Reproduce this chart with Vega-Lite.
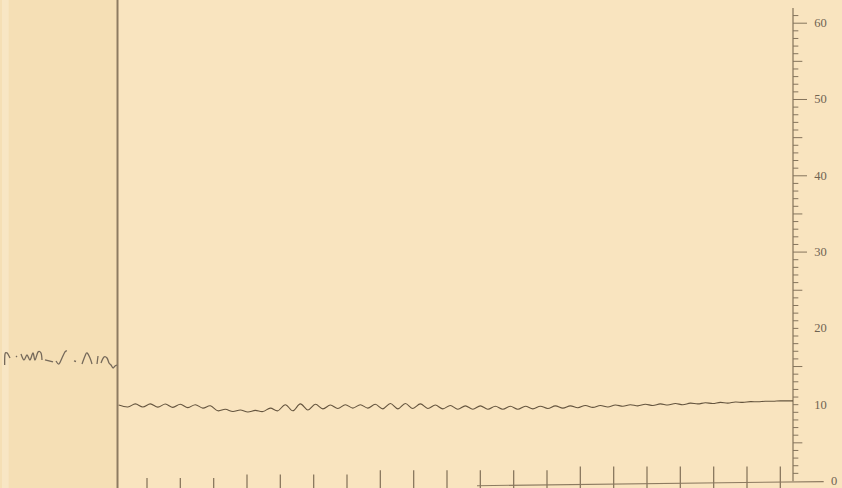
{
  "$schema": "https://vega.github.io/schema/vega-lite/v6.json",
  "width": 842,
  "height": 488,
  "autosize": {"type": "none"},
  "padding": 0,
  "background": "#f9e4bf",
  "config": {"view": {"stroke": null}},
  "datasets": {
    "trace": [
      {"t": 0.15, "v": 9.95}, {"t": 0.425, "v": 9.7}, {"t": 0.65, "v": 10.1}, {"t": 0.875, "v": 9.7},
      {"t": 1.1, "v": 10.1}, {"t": 1.325, "v": 9.68}, {"t": 1.55, "v": 10.08}, {"t": 1.775, "v": 9.65},
      {"t": 2.0, "v": 10.05}, {"t": 2.225, "v": 9.62}, {"t": 2.45, "v": 10.0}, {"t": 2.675, "v": 9.55},
      {"t": 2.9, "v": 9.85}, {"t": 3.125, "v": 9.2}, {"t": 3.35, "v": 9.4}, {"t": 3.575, "v": 9.1},
      {"t": 3.8, "v": 9.3}, {"t": 4.025, "v": 9.05}, {"t": 4.25, "v": 9.25}, {"t": 4.475, "v": 9.1},
      {"t": 4.7, "v": 9.55}, {"t": 4.925, "v": 9.2}, {"t": 5.15, "v": 10.0}, {"t": 5.375, "v": 9.2},
      {"t": 5.6, "v": 10.1}, {"t": 5.825, "v": 9.3}, {"t": 6.05, "v": 10.05}, {"t": 6.275, "v": 9.45},
      {"t": 6.5, "v": 9.95}, {"t": 6.725, "v": 9.5}, {"t": 6.95, "v": 10.0}, {"t": 7.175, "v": 9.55},
      {"t": 7.4, "v": 10.0}, {"t": 7.625, "v": 9.55}, {"t": 7.85, "v": 10.05}, {"t": 8.075, "v": 9.45},
      {"t": 8.3, "v": 10.15}, {"t": 8.525, "v": 9.45}, {"t": 8.75, "v": 10.15}, {"t": 8.975, "v": 9.5},
      {"t": 9.2, "v": 10.1}, {"t": 9.425, "v": 9.5}, {"t": 9.65, "v": 9.95}, {"t": 9.875, "v": 9.45},
      {"t": 10.1, "v": 9.9}, {"t": 10.325, "v": 9.4}, {"t": 10.55, "v": 9.85}, {"t": 10.775, "v": 9.4},
      {"t": 11.0, "v": 9.85}, {"t": 11.225, "v": 9.4}, {"t": 11.45, "v": 9.8}, {"t": 11.675, "v": 9.4},
      {"t": 11.9, "v": 9.8}, {"t": 12.125, "v": 9.4}, {"t": 12.35, "v": 9.8}, {"t": 12.575, "v": 9.45},
      {"t": 12.8, "v": 9.8}, {"t": 13.025, "v": 9.5}, {"t": 13.25, "v": 9.85}, {"t": 13.475, "v": 9.55},
      {"t": 13.7, "v": 9.85}, {"t": 13.925, "v": 9.6}, {"t": 14.15, "v": 9.9}, {"t": 14.375, "v": 9.65},
      {"t": 14.6, "v": 9.9}, {"t": 14.825, "v": 9.7}, {"t": 15.05, "v": 9.95}, {"t": 15.275, "v": 9.8},
      {"t": 15.5, "v": 10.0}, {"t": 15.725, "v": 9.85}, {"t": 15.95, "v": 10.05}, {"t": 16.175, "v": 9.9},
      {"t": 16.4, "v": 10.1}, {"t": 16.625, "v": 9.95}, {"t": 16.85, "v": 10.15}, {"t": 17.075, "v": 10.0},
      {"t": 17.3, "v": 10.2}, {"t": 17.525, "v": 10.1}, {"t": 17.75, "v": 10.25}, {"t": 17.975, "v": 10.15},
      {"t": 18.2, "v": 10.3}, {"t": 18.425, "v": 10.2}, {"t": 18.65, "v": 10.35}, {"t": 18.875, "v": 10.3},
      {"t": 19.1, "v": 10.4}, {"t": 19.325, "v": 10.38}, {"t": 19.55, "v": 10.45}, {"t": 19.775, "v": 10.45},
      {"t": 20.0, "v": 10.5}, {"t": 20.225, "v": 10.5}, {"t": 20.38, "v": 10.5}
    ],
    "prelude": [
      {"t": -3.27, "v": 15.2, "s": "A"}, {"t": -3.26, "v": 16.64, "s": "A"}, {"t": -3.2, "v": 16.78, "s": "A"}, {"t": -3.14, "v": 16.38, "s": "A"}, {"t": -3.11, "v": 16.12, "s": "A"},
      {"t": -2.93, "v": 16.38, "s": "B"}, {"t": -2.9, "v": 16.25, "s": "B"},
      {"t": -2.78, "v": 16.64, "s": "C"}, {"t": -2.69, "v": 15.86, "s": "C"}, {"t": -2.6, "v": 16.51, "s": "C"}, {"t": -2.51, "v": 15.86, "s": "C"}, {"t": -2.42, "v": 16.78, "s": "C"}, {"t": -2.36, "v": 15.86, "s": "C"}, {"t": -2.27, "v": 16.91, "s": "C"}, {"t": -2.18, "v": 16.78, "s": "C"}, {"t": -2.15, "v": 15.86, "s": "C"},
      {"t": -2.06, "v": 15.86, "s": "D"}, {"t": -1.82, "v": 15.6, "s": "D"},
      {"t": -1.73, "v": 15.73, "s": "E"}, {"t": -1.64, "v": 15.33, "s": "E"}, {"t": -1.55, "v": 16.12, "s": "E"}, {"t": -1.46, "v": 16.91, "s": "E"}, {"t": -1.4, "v": 17.04, "s": "E"},
      {"t": -1.19, "v": 15.73, "s": "F"}, {"t": -1.13, "v": 15.66, "s": "F"},
      {"t": -0.95, "v": 15.33, "s": "G"}, {"t": -0.86, "v": 16.38, "s": "G"}, {"t": -0.8, "v": 16.78, "s": "G"}, {"t": -0.71, "v": 16.12, "s": "G"}, {"t": -0.65, "v": 15.33, "s": "G"},
      {"t": -0.5, "v": 15.33, "s": "H"}, {"t": -0.47, "v": 16.38, "s": "H"},
      {"t": -0.38, "v": 15.47, "s": "I"}, {"t": -0.29, "v": 16.25, "s": "I"}, {"t": -0.2, "v": 16.12, "s": "I"}, {"t": -0.14, "v": 15.47, "s": "I"}, {"t": -0.08, "v": 15.2, "s": "I"}, {"t": -0.02, "v": 14.81, "s": "I"}, {"t": 0.04, "v": 15.07, "s": "I"}, {"t": 0.1, "v": 15.2, "s": "I"}
    ],
    "timemarks": [
      {"t": 1, "k": "s"}, {"t": 2, "k": "s"}, {"t": 3, "k": "s"}, {"t": 4, "k": "m"}, {"t": 5, "k": "m"},
      {"t": 6, "k": "m"}, {"t": 7, "k": "m"}, {"t": 8, "k": "l"}, {"t": 9, "k": "l"}, {"t": 10, "k": "l"},
      {"t": 11, "k": "l"}, {"t": 12, "k": "l"}, {"t": 13, "k": "l"}, {"t": 14, "k": "x"}, {"t": 15, "k": "x"},
      {"t": 16, "k": "x"}, {"t": 17, "k": "x"}, {"t": 18, "k": "x"}, {"t": 19, "k": "x"}, {"t": 20, "k": "x"}
    ],
    "yticks": [
      {"v": 1, "k": "m"}, {"v": 2, "k": "m"}, {"v": 3, "k": "m"}, {"v": 4, "k": "m"}, {"v": 5, "k": "f"},
      {"v": 6, "k": "m"}, {"v": 7, "k": "m"}, {"v": 8, "k": "m"}, {"v": 9, "k": "m"}, {"v": 10, "k": "m"},
      {"v": 11, "k": "m"}, {"v": 12, "k": "m"}, {"v": 13, "k": "m"}, {"v": 14, "k": "m"}, {"v": 15, "k": "f"},
      {"v": 16, "k": "m"}, {"v": 17, "k": "m"}, {"v": 18, "k": "m"}, {"v": 19, "k": "m"}, {"v": 20, "k": "m"},
      {"v": 21, "k": "m"}, {"v": 22, "k": "m"}, {"v": 23, "k": "m"}, {"v": 24, "k": "m"}, {"v": 25, "k": "f"},
      {"v": 26, "k": "m"}, {"v": 27, "k": "m"}, {"v": 28, "k": "m"}, {"v": 29, "k": "m"}, {"v": 30, "k": "t"},
      {"v": 31, "k": "m"}, {"v": 32, "k": "m"}, {"v": 33, "k": "m"}, {"v": 34, "k": "m"}, {"v": 35, "k": "f"},
      {"v": 36, "k": "m"}, {"v": 37, "k": "m"}, {"v": 38, "k": "m"}, {"v": 39, "k": "m"}, {"v": 40, "k": "t"},
      {"v": 41, "k": "m"}, {"v": 42, "k": "m"}, {"v": 43, "k": "m"}, {"v": 44, "k": "m"}, {"v": 45, "k": "f"},
      {"v": 46, "k": "m"}, {"v": 47, "k": "m"}, {"v": 48, "k": "m"}, {"v": 49, "k": "m"}, {"v": 50, "k": "t"},
      {"v": 51, "k": "m"}, {"v": 52, "k": "m"}, {"v": 53, "k": "m"}, {"v": 54, "k": "m"}, {"v": 55, "k": "f"},
      {"v": 56, "k": "m"}, {"v": 57, "k": "m"}, {"v": 58, "k": "m"}, {"v": 59, "k": "m"}, {"v": 60, "k": "t"},
      {"v": 61, "k": "m"}
    ],
    "ylabels": [
      {"v": 10, "label": "10"}, {"v": 20, "label": "20"}, {"v": 30, "label": "30"},
      {"v": 40, "label": "40"}, {"v": 50, "label": "50"}, {"v": 60, "label": "60"}
    ],
    "zerolabel": [{"v": 0, "label": "0"}]
  },
  "layer": [
    {
      "data": {"values": [{}]},
      "mark": {"type": "rect", "color": "#f5dfb5"},
      "encoding": {
        "x": {"datum": -3.41, "type": "quantitative", "scale": {"domain": [-3.41, 21.85], "nice": false, "zero": false}, "axis": null},
        "x2": {"datum": 0.08},
        "y": {"datum": -0.92, "type": "quantitative", "scale": {"domain": [-0.92, 63.04], "nice": false, "zero": false}, "axis": null},
        "y2": {"datum": 63.04}
      }
    },
    {
      "data": {"values": [{}]},
      "mark": {"type": "rect", "color": "#f8e6c4"},
      "encoding": {
        "x": {"datum": -3.35, "type": "quantitative", "scale": {"domain": [-3.41, 21.85], "nice": false, "zero": false}, "axis": null},
        "x2": {"datum": -3.15},
        "y": {"datum": -0.92, "type": "quantitative", "scale": {"domain": [-0.92, 63.04], "nice": false, "zero": false}, "axis": null},
        "y2": {"datum": 63.04}
      }
    },
    {
      "data": {"values": [{}]},
      "mark": {"type": "rule", "color": "#8d7b61", "strokeWidth": 2},
      "encoding": {
        "x": {"datum": 0.115, "type": "quantitative", "scale": {"domain": [-3.41, 21.85], "nice": false, "zero": false}, "axis": null}
      }
    },
    {
      "data": {"values": [{}]},
      "mark": {"type": "rule", "color": "#8d7b61", "strokeWidth": 1.3},
      "encoding": {
        "x": {"datum": 20.38, "type": "quantitative", "scale": {"domain": [-3.41, 21.85], "nice": false, "zero": false}, "axis": null},
        "y": {"datum": -0.05, "type": "quantitative", "scale": {"domain": [-0.92, 63.04], "nice": false, "zero": false}, "axis": null},
        "y2": {"datum": 62}
      }
    },
    {
      "data": {"values": [{}]},
      "mark": {"type": "rule", "color": "#8d7b61", "strokeWidth": 1.1},
      "encoding": {
        "x": {"datum": 10.9, "type": "quantitative", "scale": {"domain": [-3.41, 21.85], "nice": false, "zero": false}, "axis": null},
        "x2": {"datum": 21.3},
        "y": {"datum": -0.62, "type": "quantitative", "scale": {"domain": [-0.92, 63.04], "nice": false, "zero": false}, "axis": null},
        "y2": {"datum": -0.08}
      }
    },
    {
      "data": {"name": "yticks"},
      "transform": [{"filter": "datum.k === 'm'"}],
      "mark": {"type": "rule", "color": "#85745c", "strokeWidth": 1},
      "encoding": {
        "x": {"datum": 20.38, "type": "quantitative", "scale": {"domain": [-3.41, 21.85], "nice": false, "zero": false}, "axis": null},
        "x2": {"datum": 20.54},
        "y": {"field": "v", "type": "quantitative", "scale": {"domain": [-0.92, 63.04], "nice": false, "zero": false}, "axis": null}
      }
    },
    {
      "data": {"name": "yticks"},
      "transform": [{"filter": "datum.k === 'f'"}],
      "mark": {"type": "rule", "color": "#85745c", "strokeWidth": 1},
      "encoding": {
        "x": {"datum": 20.38, "type": "quantitative", "scale": {"domain": [-3.41, 21.85], "nice": false, "zero": false}, "axis": null},
        "x2": {"datum": 20.66},
        "y": {"field": "v", "type": "quantitative", "scale": {"domain": [-0.92, 63.04], "nice": false, "zero": false}, "axis": null}
      }
    },
    {
      "data": {"name": "yticks"},
      "transform": [{"filter": "datum.k === 't'"}],
      "mark": {"type": "rule", "color": "#85745c", "strokeWidth": 1},
      "encoding": {
        "x": {"datum": 20.38, "type": "quantitative", "scale": {"domain": [-3.41, 21.85], "nice": false, "zero": false}, "axis": null},
        "x2": {"datum": 20.8},
        "y": {"field": "v", "type": "quantitative", "scale": {"domain": [-0.92, 63.04], "nice": false, "zero": false}, "axis": null}
      }
    },
    {
      "data": {"name": "ylabels"},
      "mark": {"type": "text", "font": "Liberation Serif", "fontSize": 12.5, "color": "#6f6352", "align": "left", "baseline": "middle"},
      "encoding": {
        "x": {"datum": 21.02, "type": "quantitative", "scale": {"domain": [-3.41, 21.85], "nice": false, "zero": false}, "axis": null},
        "y": {"field": "v", "type": "quantitative", "scale": {"domain": [-0.92, 63.04], "nice": false, "zero": false}, "axis": null},
        "text": {"field": "label", "type": "nominal"}
      }
    },
    {
      "data": {"name": "zerolabel"},
      "mark": {"type": "text", "font": "Liberation Serif", "fontSize": 12.5, "color": "#6f6352", "align": "left", "baseline": "middle"},
      "encoding": {
        "x": {"datum": 21.52, "type": "quantitative", "scale": {"domain": [-3.41, 21.85], "nice": false, "zero": false}, "axis": null},
        "y": {"field": "v", "type": "quantitative", "scale": {"domain": [-0.92, 63.04], "nice": false, "zero": false}, "axis": null},
        "text": {"field": "label", "type": "nominal"}
      }
    },
    {
      "data": {"name": "timemarks"},
      "transform": [{"filter": "datum.k === 's'"}],
      "mark": {"type": "rule", "color": "#8a785f", "strokeWidth": 1.3},
      "encoding": {
        "x": {"field": "t", "type": "quantitative", "scale": {"domain": [-3.41, 21.85], "nice": false, "zero": false}, "axis": null},
        "y": {"datum": -0.92, "type": "quantitative", "scale": {"domain": [-0.92, 63.04], "nice": false, "zero": false}, "axis": null},
        "y2": {"datum": 0.39}
      }
    },
    {
      "data": {"name": "timemarks"},
      "transform": [{"filter": "datum.k === 'm'"}],
      "mark": {"type": "rule", "color": "#8a785f", "strokeWidth": 1.3},
      "encoding": {
        "x": {"field": "t", "type": "quantitative", "scale": {"domain": [-3.41, 21.85], "nice": false, "zero": false}, "axis": null},
        "y": {"datum": -0.92, "type": "quantitative", "scale": {"domain": [-0.92, 63.04], "nice": false, "zero": false}, "axis": null},
        "y2": {"datum": 0.85}
      }
    },
    {
      "data": {"name": "timemarks"},
      "transform": [{"filter": "datum.k === 'l'"}],
      "mark": {"type": "rule", "color": "#8a785f", "strokeWidth": 1.3},
      "encoding": {
        "x": {"field": "t", "type": "quantitative", "scale": {"domain": [-3.41, 21.85], "nice": false, "zero": false}, "axis": null},
        "y": {"datum": -0.92, "type": "quantitative", "scale": {"domain": [-0.92, 63.04], "nice": false, "zero": false}, "axis": null},
        "y2": {"datum": 1.4}
      }
    },
    {
      "data": {"name": "timemarks"},
      "transform": [{"filter": "datum.k === 'x'"}],
      "mark": {"type": "rule", "color": "#8a785f", "strokeWidth": 1.3},
      "encoding": {
        "x": {"field": "t", "type": "quantitative", "scale": {"domain": [-3.41, 21.85], "nice": false, "zero": false}, "axis": null},
        "y": {"datum": -0.92, "type": "quantitative", "scale": {"domain": [-0.92, 63.04], "nice": false, "zero": false}, "axis": null},
        "y2": {"datum": 1.9}
      }
    },
    {
      "data": {"name": "prelude"},
      "mark": {"type": "line", "color": "#75695a", "strokeWidth": 1.3, "interpolate": "cardinal"},
      "encoding": {
        "x": {"field": "t", "type": "quantitative", "scale": {"domain": [-3.41, 21.85], "nice": false, "zero": false}, "axis": null},
        "y": {"field": "v", "type": "quantitative", "scale": {"domain": [-0.92, 63.04], "nice": false, "zero": false}, "axis": null},
        "detail": {"field": "s", "type": "nominal"}
      }
    },
    {
      "data": {"name": "trace"},
      "mark": {"type": "line", "color": "#65553f", "strokeWidth": 1.1, "interpolate": "cardinal"},
      "encoding": {
        "x": {"field": "t", "type": "quantitative", "scale": {"domain": [-3.41, 21.85], "nice": false, "zero": false}, "axis": null},
        "y": {"field": "v", "type": "quantitative", "scale": {"domain": [-0.92, 63.04], "nice": false, "zero": false}, "axis": null}
      }
    }
  ]
}
